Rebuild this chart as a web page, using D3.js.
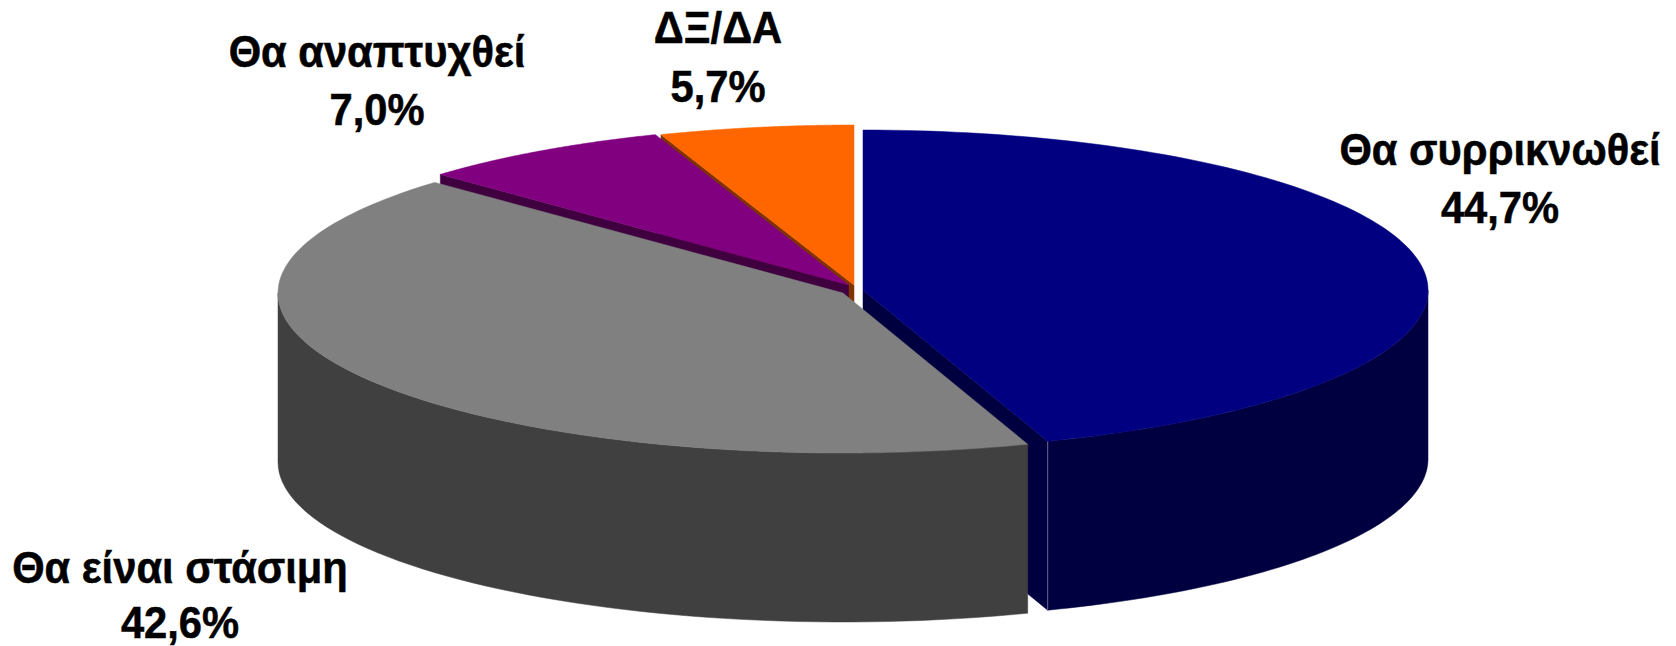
<!DOCTYPE html>
<html><head><meta charset="utf-8">
<script src="https://cdnjs.cloudflare.com/ajax/libs/d3/7.8.5/d3.min.js"></script>
<style>html,body{margin:0;padding:0;background:#fff}svg{display:block}text{font-family:"Liberation Sans",Arial,sans-serif;font-weight:bold;fill:#000;stroke:#000;stroke-width:.5px}</style>
</head><body><svg id="c" width="1676" height="646"></svg>
<script>
const categories = ["Θα συρρικνωθεί","Θα είναι στάσιμη","Θα αναπτυχθεί","ΔΞ/ΔΑ"];
const values = [44.7,42.6,7.0,5.7];
// slice sizes as measured on the drawn pie (they differ slightly from the printed labels)
const drawnShares = [44.7,42.45,7.3,5.55];
const topColors = ["#000080","#808080","#800080","#ff6600"];
const wallColors = ["#000040","#404040","#400040","#803300"];

const rx=565, ry=160, depth=169;
const centers=[[863,290],[843,293],[848.5,285],[854,285]];
const labelPos=[[1500,165,223],[180,583,638],[377,67,125],[718,43,102]];

const svg=d3.select("#c");
const slices=d3.pie().sort(null).value(d=>d)(drawnShares);
const proj=(i,a,dy=0)=>[centers[i][0]+rx*Math.sin(a),centers[i][1]-ry*Math.cos(a)+dy];
const line=d3.line();

function wallOuter(i,s){
  const a0=Math.max(s.startAngle,Math.PI/2), a1=Math.min(s.endAngle,3*Math.PI/2);
  if(a1<=a0) return null;
  const ang=d3.range(0,61).map(k=>a0+(a1-a0)*k/60);
  return line(ang.map(a=>proj(i,a)).concat(ang.slice().reverse().map(a=>proj(i,a,depth))))+"Z";
}
function wallRadial(i,a){
  const c=centers[i];
  return line([c,proj(i,a),proj(i,a,depth),[c[0],c[1]+depth]])+"Z";
}
function topPoints(i){
  const s=slices[i];
  return d3.range(0,121).map(k=>proj(i,s.startAngle+(s.endAngle-s.startAngle)*k/120));
}
function drawSlice(i){
  const s=slices[i],g=svg.append("g").attr("class","slice");
  const walls=[];
  if(i===0) walls.push(wallRadial(i,s.endAngle));
  if(i>=2) walls.push(wallRadial(i,s.startAngle));
  const o=wallOuter(i,s); if(o) walls.push(o);
  g.selectAll("path.w").data(walls).join("path").attr("class","w").attr("d",d=>d)
    .attr("fill",wallColors[i]).attr("stroke",wallColors[i]).attr("stroke-width",0.5);
  if(i===0) g.append("path").attr("d",line([proj(0,s.endAngle),proj(0,s.endAngle,depth)]))
    .attr("fill","none").attr("stroke","#8080a0").attr("stroke-width",0.8);
  g.append("path").attr("d",line([centers[i]].concat(topPoints(i)))+"Z")
    .attr("fill",topColors[i]).attr("stroke",topColors[i]).attr("stroke-width",0.5);
}
[3,2,0,1].forEach(drawSlice);

const labels=svg.append("g").selectAll("g").data(categories).join("g");
const fs=41.7, sy=1.06;
labels.append("text").attr("text-anchor","middle").attr("font-size",fs)
  .attr("transform",(d,i)=>`translate(${labelPos[i][0]},${labelPos[i][1]}) scale(1,${sy})`).text(d=>d);
labels.append("text").attr("text-anchor","middle").attr("font-size",fs)
  .attr("transform",(d,i)=>`translate(${labelPos[i][0]},${labelPos[i][2]}) scale(1,${sy})`)
  .text((d,i)=>values[i].toFixed(1).replace(".",",")+"%");
</script></body></html>
